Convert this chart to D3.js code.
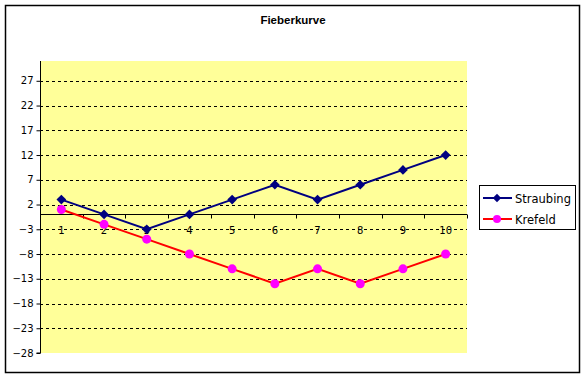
<!DOCTYPE html>
<html>
<head>
<meta charset="utf-8">
<script src="https://cdn.jsdelivr.net/npm/d3@7"></script>
<style>
  body { margin: 0; background: #fff; }
  text { font-family: Tahoma, "DejaVu Sans", sans-serif; }
</style>
</head>
<body>
<div id="chart"></div>
<script>
/* DATA */
const days = [1, 2, 3, 4, 5, 6, 7, 8, 9, 10];
const straubing = [3, 0, -3, 0, 3, 6, 3, 6, 9, 12];
const krefeld = [1, -2, -5, -8, -11, -14, -11, -14, -11, -8];
const yTicks = [-28, -23, -18, -13, -8, -3, 2, 7, 12, 17, 22, 27];
const seriesNames = ["Straubing", "Krefeld"];

const width = 585, height = 378;
const margin = { top: 61, bottom: 25, left: 40, right: 118 };

const svg = d3.select("#chart").append("svg")
  .attr("width", width)
  .attr("height", height);

// outer frame
svg.append("rect")
  .attr("x", 5.5).attr("y", 5.5)
  .attr("width", 574).attr("height", 367)
  .attr("fill", "#fff")
  .attr("stroke", "#000")
  .attr("stroke-width", 1.5);

svg.append("text")
  .attr("x", 293).attr("y", 24)
  .attr("text-anchor", "middle")
  .attr("font-size", 11.5)
  .attr("font-weight", "bold")
  .style("font-family", "'Liberation Sans', Arial, sans-serif")
  .text("Fieberkurve");

// scales
const xScale = d3.scaleBand()
  .domain(days)
  .range([margin.left, width - margin.right]);

const yScale = d3.scaleLinear()
  .domain([-28, 31])
  .range([height - margin.bottom, margin.top]);

// plot area
svg.append("rect")
  .attr("x", margin.left).attr("y", margin.top)
  .attr("width", xScale.range()[1] - margin.left)
  .attr("height", yScale(-28) - margin.top)
  .attr("fill", "#ffff99");

// gridlines
svg.append("g")
  .selectAll("line")
  .data(yTicks.slice(1))
  .join("line")
  .attr("x1", margin.left).attr("x2", xScale.range()[1])
  .attr("y1", d => Math.round(yScale(d)) + 0.5)
  .attr("y2", d => Math.round(yScale(d)) + 0.5)
  .attr("stroke", "#000")
  .attr("stroke-dasharray", "3,3");

// y axis
const yAxis = d3.axisLeft(yScale).tickValues(yTicks).tickSize(4).tickPadding(3);
svg.append("g")
  .attr("transform", `translate(${margin.left + 0.5},0)`)
  .call(yAxis)
  .call(g => g.selectAll("text").attr("font-size", 10).attr("fill", "#000"))
  .call(g => g.select(".domain").attr("d", `M-4,${yScale(-28)}H0V${margin.top}`));

// x axis at zero
const zeroY = Math.round(yScale(0)) + 0.5;
svg.append("line")
  .attr("x1", margin.left).attr("x2", xScale.range()[1])
  .attr("y1", zeroY).attr("y2", zeroY)
  .attr("stroke", "#000");

svg.append("g")
  .selectAll("line")
  .data(days.concat([11]))
  .join("line")
  .attr("x1", d => Math.round(d === 11 ? xScale.range()[1] : xScale(d)) + 0.5)
  .attr("x2", d => Math.round(d === 11 ? xScale.range()[1] : xScale(d)) + 0.5)
  .attr("y1", zeroY).attr("y2", zeroY + 4)
  .attr("stroke", "#000");

svg.append("g")
  .selectAll("text")
  .data(days)
  .join("text")
  .attr("x", d => xScale(d) + xScale.bandwidth() / 2)
  .attr("y", zeroY + 19)
  .attr("text-anchor", "middle")
  .attr("font-size", 10)
  .text(d => d);

// series
const cx = d => xScale(d) + xScale.bandwidth() / 2;
const line = d3.line().x(d => cx(d[0])).y(d => yScale(d[1]));

const sData = days.map((d, i) => [d, straubing[i]]);
const kData = days.map((d, i) => [d, krefeld[i]]);

svg.append("path")
  .datum(sData)
  .attr("d", line)
  .attr("fill", "none")
  .attr("stroke", "#000080")
  .attr("stroke-width", 2);

svg.append("g")
  .selectAll("path")
  .data(sData)
  .join("path")
  .attr("d", d3.symbol(d3.symbolDiamond2, 60))
  .attr("transform", d => `translate(${cx(d[0])},${yScale(d[1])})`)
  .attr("fill", "#000080");

svg.append("path")
  .datum(kData)
  .attr("d", line)
  .attr("fill", "none")
  .attr("stroke", "#ff0000")
  .attr("stroke-width", 2);

svg.append("g")
  .selectAll("circle")
  .data(kData)
  .join("circle")
  .attr("cx", d => cx(d[0]))
  .attr("cy", d => yScale(d[1]))
  .attr("r", 4.5)
  .attr("fill", "#ff00ff");

// legend
const legend = svg.append("g");
legend.append("rect")
  .attr("x", 479.5).attr("y", 185.5)
  .attr("width", 96).attr("height", 44)
  .attr("fill", "#fff")
  .attr("stroke", "#000");

const colors = ["#000080", "#ff0000"];
const markers = ["#000080", "#ff00ff"];
seriesNames.forEach((name, i) => {
  const y = 198 + i * 21;
  legend.append("line")
    .attr("x1", 483).attr("x2", 512)
    .attr("y1", y).attr("y2", y)
    .attr("stroke", colors[i]).attr("stroke-width", 2);
  if (i === 0) {
    legend.append("path")
      .attr("d", d3.symbol(d3.symbolDiamond2, 45))
      .attr("transform", `translate(497,${y})`)
      .attr("fill", markers[i]);
  } else {
    legend.append("circle")
      .attr("cx", 497).attr("cy", y).attr("r", 4)
      .attr("fill", markers[i]);
  }
  legend.append("text")
    .attr("x", 515).attr("y", y + 4.5)
    .attr("font-size", 11.5)
    .text(name);
});
</script>
</body>
</html>
